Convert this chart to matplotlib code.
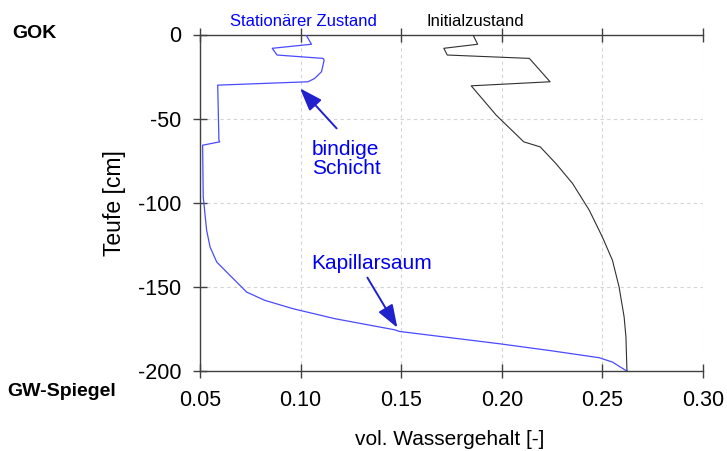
import matplotlib
matplotlib.use("Agg")
import matplotlib.pyplot as plt

# ---- data ----
stat_theta = [0.1026, 0.1054, 0.0859, 0.0883, 0.1112, 0.1117, 0.1104, 0.1070, 0.1037,
              0.0588, 0.0594, 0.0598, 0.0513, 0.0516, 0.0533, 0.0550, 0.0583, 0.0640,
              0.0732, 0.0822, 0.0963, 0.1170, 0.1467, 0.1492, 0.1988, 0.2236, 0.2484,
              0.2550, 0.2617, 0.2622]
stat_depth = [0.0, -5.8, -8.2, -12.2, -14.2, -15.2, -22.1, -26.1, -28.1,
              -30.1, -62.8, -63.8, -65.8, -96.5, -116.4, -126.3, -135.2, -142.1,
              -153.1, -158.0, -163.0, -168.9, -175.5, -176.5, -183.8, -187.8, -192.1,
              -194.7, -199.7, -200.0]

init_theta = [0.1856, 0.1880, 0.1712, 0.1729, 0.2137, 0.2240, 0.1848, 0.1972, 0.2109,
              0.2191, 0.2269, 0.2352, 0.2435, 0.2500, 0.2550, 0.2583, 0.2608, 0.2617,
              0.2622]
init_depth = [0.0, -5.8, -8.2, -12.2, -14.2, -28.1, -30.5, -47.9, -63.8,
              -66.8, -76.7, -88.6, -104.5, -120.4, -134.2, -150.1, -167.9, -179.8,
              -200.0]

x_ticks = [0.05, 0.10, 0.15, 0.20, 0.25, 0.30]
x_tick_labels = ["0.05", "0.10", "0.15", "0.20", "0.25", "0.30"]
y_ticks = [0, -50, -100, -150, -200]
y_tick_labels = ["0", "-50", "-100", "-150", "-200"]

plt.rcParams['font.family'] = ['Liberation Sans', 'DejaVu Sans']

fig = plt.figure(figsize=(7.27, 4.51), dpi=100)
ax = fig.add_axes([200/727, 1-371/451, 503/727, (371-34.5)/451])

blue_line = "#4a4aff"
dark = "#404040"
ax.plot(stat_theta, stat_depth, color=blue_line, lw=0.9, zorder=3)
ax.plot(init_theta, init_depth, color="#303030", lw=0.8, zorder=3)

ax.set_xlim(0.05, 0.30)
ax.set_ylim(-200, 0)
ax.set_xticks(x_ticks)
ax.set_xticklabels(x_tick_labels)
ax.set_yticks(y_ticks)
ax.set_yticklabels(y_tick_labels)

ax.grid(True, color="#d4d4d4", linestyle=(0, (3, 3)), lw=0.8)
for s in ["left", "bottom", "top"]:
    ax.spines[s].set_color(dark)
    ax.spines[s].set_linewidth(1.0)
ax.spines["right"].set_visible(False)

ax.tick_params(axis='both', direction='inout', length=9.5, width=1.0, color=dark,
               labelsize=15.5, labelcolor="black")
ax.tick_params(axis='x', top=True, pad=9)
ax.tick_params(axis='y', pad=8.5)

ax.set_xlabel("vol. Wassergehalt [-]", fontsize=15, va='center')
ax.set_ylabel("Teufe [cm]", fontsize=16.5, va='center')
ax.xaxis.set_label_coords(0.497, -0.205)
ax.yaxis.set_label_coords(-0.169, 0.5)

# Side labels
fig.text(34/727, 1-33/451, "GOK", fontsize=14, fontweight='bold', ha='center', va='center')
fig.text(62/727, 1-391/451, "GW-Spiegel", fontsize=14, fontweight='bold', ha='center', va='center')

# Curve titles above the plot
ax.text(0.1016, 3.2, "Stationärer Zustand", color="#0000ff", fontsize=12,
        ha='center', va='bottom')
ax.text(0.1868, 3.2, "Initialzustand", color="black", fontsize=12,
        ha='center', va='bottom')

# Annotations
ann_color = "#0000ee"
arrow_kw = dict(arrowstyle='-|>,head_length=0.7,head_width=0.25', color="#2020cc",
                lw=1.4, mutation_scale=20, shrinkA=0, shrinkB=0)
ax.text(0.1055, -74.0, "bindige\nSchicht", color=ann_color, fontsize=15,
        ha='left', va='center', linespacing=1.0)
ax.annotate("", xy=(0.0997, -32.0), xytext=(0.1179, -55.8), arrowprops=arrow_kw, zorder=4)
ax.text(0.1055, -136.0, "Kapillarsaum", color=ann_color, fontsize=15,
        ha='left', va='center')
ax.annotate("", xy=(0.1481, -174.3), xytext=(0.1332, -144.5), arrowprops=arrow_kw, zorder=4)

fig.savefig("out.png", dpi=100)
